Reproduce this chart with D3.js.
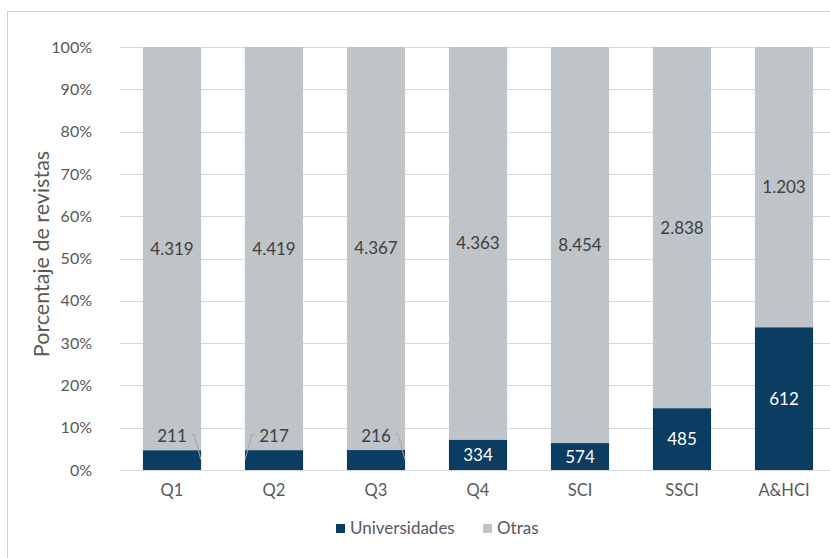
<!DOCTYPE html>
<html>
<head>
<meta charset="utf-8">
<script src="https://cdn.jsdelivr.net/npm/d3@7/dist/d3.min.js"></script>
<style>
  body { margin: 0; background: #fff; }
  svg text { font-family: Lato, "Open Sans", sans-serif; }
</style>
</head>
<body>
<svg id="chart" width="830" height="558"></svg>
<script>
// data
var categories = ["Q1", "Q2", "Q3", "Q4", "SCI", "SSCI", "A&HCI"];
var universidades = [211, 217, 216, 334, 574, 485, 612];
var otras = [4319, 4419, 4367, 4363, 8454, 2838, 1203];
var yTicks = [0, 0.1, 0.2, 0.3, 0.4, 0.5, 0.6, 0.7, 0.8, 0.9, 1];
// which small labels sit above the bar, and which side the leader goes to
var leaderSide = [1, -1, 1, 0, 0, 0, 0];

var colUni = "#0b3c61", colOtras = "#bfc4c8", txt = "#595959";

var svg = d3.select("#chart");

// outer chart frame
svg.append("rect").attr("x", 7.5).attr("y", 11.5).attr("width", 840).attr("height", 560)
  .attr("fill", "none").attr("stroke", "#d0d0d0");

var x = d3.scaleBand().domain(categories).range([121, 835]).paddingInner(0.43).paddingOuter(0.215);
var y = d3.scaleLinear().domain([0, 1]).range([470, 47]);

var fmt = d3.formatLocale({decimal: ",", thousands: ".", grouping: [3], currency: ["", ""]}).format(",d");

// gridlines
svg.append("g").selectAll("line").data(yTicks).join("line")
  .attr("x1", 120).attr("x2", 830)
  .attr("y1", function(d){ return Math.round(y(d)) + 0.5 })
  .attr("y2", function(d){ return Math.round(y(d)) + 0.5 })
  .attr("stroke", "#d9d9d9").attr("stroke-width", 1);

// y axis labels
var yAxis = d3.axisLeft(y).tickValues(yTicks).tickFormat(d3.format(".0%")).tickSize(0).tickPadding(28);
var ya = svg.append("g").attr("transform", "translate(120,0)").call(yAxis);
ya.select(".domain").remove();
ya.selectAll("text").attr("fill", txt).style("font-size", "16px").style("font-family", "Lato, sans-serif");

// x axis labels
var xAxis = d3.axisBottom(x).tickSize(0).tickPadding(14);
var xa = svg.append("g").attr("transform", "translate(0,470)").call(xAxis);
xa.select(".domain").remove();
xa.selectAll("text").attr("fill", txt).style("font-size", "16.5px").style("font-family", "Lato, sans-serif");

var rows = categories.map(function(c, i){
  var tot = universidades[i] + otras[i];
  return {cat: c, uni: universidades[i], otr: otras[i], pu: universidades[i] / tot, side: leaderSide[i]};
});

// bars
var g = svg.append("g");
g.selectAll("rect.otras").data(rows).join("rect").attr("class", "otras")
  .attr("x", function(d){ return x(d.cat) }).attr("width", x.bandwidth())
  .attr("y", y(1)).attr("height", function(d){ return y(d.pu) - y(1) })
  .attr("fill", colOtras);
g.selectAll("rect.uni").data(rows).join("rect").attr("class", "uni")
  .attr("x", function(d){ return x(d.cat) }).attr("width", x.bandwidth())
  .attr("y", function(d){ return y(d.pu) }).attr("height", function(d){ return y(0) - y(d.pu) })
  .attr("fill", colUni);

// labels for Otras (middle of the grey part)
g.selectAll("text.lo").data(rows).join("text").attr("class", "lo")
  .attr("x", function(d){ return x(d.cat) + x.bandwidth() / 2 })
  .attr("y", function(d){ return (y(1) + y(d.pu)) / 2 })
  .attr("dy", "0.35em").attr("text-anchor", "middle")
  .attr("fill", "#404040").style("font-size", "17px").text(function(d){ return fmt(d.otr) });

// labels for Universidades
g.selectAll("text.lu").data(rows).join("text").attr("class", "lu")
  .attr("x", function(d){ return x(d.cat) + x.bandwidth() / 2 })
  .attr("y", function(d){ return d.side ? y(d.pu) - 14 : (y(0) + y(d.pu)) / 2 })
  .attr("dy", "0.35em").attr("text-anchor", "middle")
  .attr("fill", function(d){ return d.side ? "#404040" : "#fff" })
  .style("font-size", "17px").text(function(d){ return fmt(d.uni) });

// leader lines for the small ones
g.selectAll("path.lead").data(rows.filter(function(d){ return d.side })).join("path").attr("class", "lead")
  .attr("d", function(d){
    var cx = x(d.cat) + x.bandwidth() / 2, ly = y(d.pu) - 16;
    var sx = cx + d.side * 19, hx = cx + d.side * 22;
    var ex = cx + d.side * x.bandwidth() / 2, ey = (y(0) + y(d.pu)) / 2;
    return "M" + sx + "," + ly + "L" + hx + "," + ly + "L" + ex + "," + ey;
  })
  .attr("fill", "none").attr("stroke", "#a6a6a6").attr("stroke-width", 1);

// y axis title
svg.append("text").attr("transform", "translate(49,254) rotate(-90)")
  .attr("text-anchor", "middle").attr("fill", txt).style("font-size", "21.5px")
  .text("Porcentaje de revistas");

// legend
var legend = [{name: "Universidades", col: colUni, x: 336}, {name: "Otras", col: colOtras, x: 483}];
var lg = svg.append("g").selectAll("g").data(legend).join("g")
  .attr("transform", function(d){ return "translate(" + d.x + ",524)" });
lg.append("rect").attr("width", 9).attr("height", 9).attr("fill", function(d){ return d.col });
lg.append("text").attr("x", 14).attr("y", 4.5).attr("dy", "0.35em").attr("fill", txt)
  .style("font-size", "17px").text(function(d){ return d.name });
</script>
</body>
</html>
